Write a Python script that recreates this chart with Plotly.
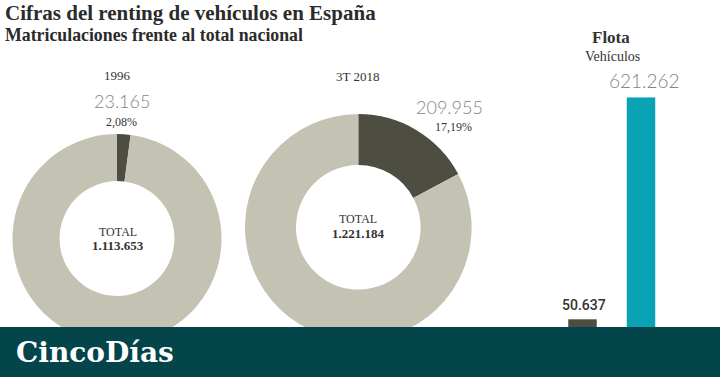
import plotly.graph_objects as go

# ---- data ----
periods = ["1996", "3T 2018"]
renting_regs = [23165, 209955]
total_regs = [1113653, 1221184]
pct_labels = ["2,08%", "17,19%"]
fleet_categories = ["a", "b"]
fleet_values = [50637, 621262]

W, H = 720, 377
SERIF = "Liberation Serif"
SANS = "Lato"
LIGHT = "#c4c2b2"
DARK = "#4e4d41"
TEAL = "#0aa3b6"
BANNER = "#03454a"
GREY_NUM = "#85857d"
TXT = "#333333"


def fmt(n):
    return f"{n:,}".replace(",", ".")


def px(x):
    return x / W


def py(y):
    return 1 - y / H


fig = go.Figure()

# donuts: (center x, center y, radius) in pixels
donut_geo = [(117, 238.5, 104.5), (358.3, 227.3, 113.3)]
for i, (cx, cy, r) in enumerate(donut_geo):
    fig.add_trace(go.Pie(
        values=[renting_regs[i], total_regs[i] - renting_regs[i]],
        labels=["Renting", "Resto"],
        marker=dict(colors=[DARK, LIGHT], line=dict(width=0)),
        hole=0.55,
        sort=False,
        direction="clockwise",
        rotation=0,
        textinfo="none",
        hoverinfo="skip",
        showlegend=False,
        domain=dict(x=[px(cx - r), px(cx + r)], y=[py(cy + r), py(cy - r)]),
    ))

# fleet bars
fig.add_trace(go.Bar(
    x=[0, 1],
    y=fleet_values,
    width=0.487,
    marker=dict(color=[DARK, TEAL], line=dict(width=0)),
    hoverinfo="skip",
    showlegend=False,
))

ann = []


def t(text, x, y, size, color=TXT, family=SERIF, xanchor="center", weight=None):
    d = dict(text=text, x=px(x), y=py(y), xref="paper", yref="paper",
             xanchor=xanchor, yanchor="middle", showarrow=False,
             font=dict(size=size, color=color, family=family))
    if weight:
        d["font"]["weight"] = weight
    ann.append(d)


t("<b>Cifras del renting de vehículos en España</b>", 3, 13, 21, color="#2b2b2b", xanchor="left")
t("<b>Matriculaciones frente al total nacional</b>", 3, 35, 17.8, color="#2b2b2b", xanchor="left")

# donut labels
lab_pos = [
    dict(period=(117, 75.5), num=(121.7, 101.5), pct=(121.7, 121.5), tot=(118, 232), totv=(118, 245)),
    dict(period=(357.5, 76), num=(449, 107), pct=(453, 127), tot=(358, 219), totv=(358.5, 233)),
]
for i, p in enumerate(lab_pos):
    t(periods[i], *p["period"], 13)
    t(fmt(renting_regs[i]), *p["num"], 18, color=GREY_NUM, family=SANS, weight=300)
    t(pct_labels[i], *p["pct"], 12)
    t("TOTAL", *p["tot"], 12)
    t("<b>" + fmt(total_regs[i]) + "</b>", *p["totv"], 13)

t("<b>Flota</b>", 611, 37, 17)
t("Vehículos", 612, 56, 14)

# bar value labels tied to data
for i, v in enumerate(fleet_values):
    if i == 1:
        font = dict(size=19, color=GREY_NUM, family=SANS, weight=300)
        shift = 3
        xs = 3
    else:
        font = dict(size=14, color=TXT, family="Roboto", weight=500)
        shift = 4
        xs = 1
    ann.append(dict(text=fmt(v), x=i, y=v, xref="x", yref="y", xanchor="center",
                    yanchor="bottom", yshift=shift, xshift=xs, showarrow=False, font=font))

# banner text
t("<b>CincoDías</b>", 14, 352, 28, color="white", family="DejaVu Serif", xanchor="left")

fig.update_layout(
    width=W, height=H,
    margin=dict(l=0, r=0, t=0, b=0),
    paper_bgcolor="white", plot_bgcolor="rgba(0,0,0,0)",
    xaxis=dict(domain=[px(540), px(690)], range=[-42.5 / 58.5, 1 + 49 / 58.5],
               visible=False, fixedrange=True),
    yaxis=dict(domain=[py(339), py(97.3)], range=[0, max(fleet_values)],
               visible=False, fixedrange=True),
    annotations=ann,
    shapes=[dict(type="rect", xref="paper", yref="paper", x0=0, x1=1,
                 y0=0, y1=py(327), fillcolor=BANNER, line=dict(width=0), layer="above")],
)

fig.write_html("out.html", config={"displayModeBar": False},
               post_script="document.body.style.margin='0';document.body.style.overflow='hidden';")
